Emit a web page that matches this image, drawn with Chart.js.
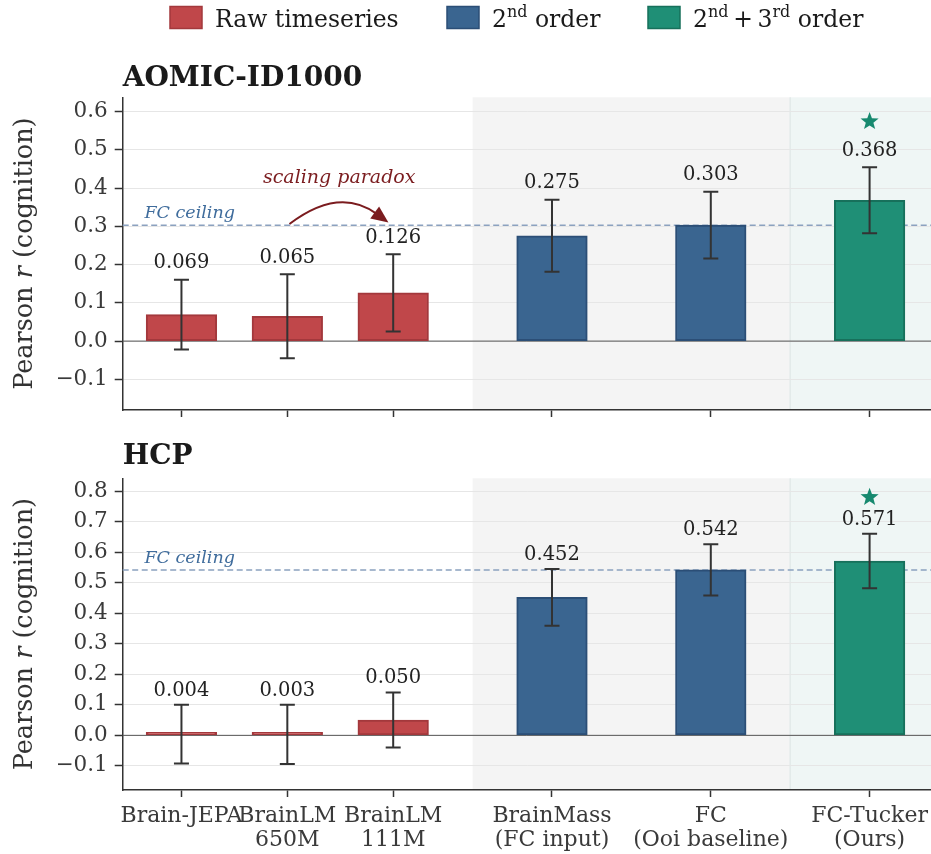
<!DOCTYPE html>
<html><head><meta charset="utf-8">
<script src="https://cdn.jsdelivr.net/npm/chart.js@4.4.1/dist/chart.umd.min.js"></script>
<style>
html,body{margin:0;padding:0;background:#fff;}
#wrap{position:relative;width:931px;height:854px;overflow:hidden;}
canvas{position:absolute;left:0;}
#c1{top:0}
#c2{top:420px}
</style></head><body>
<div id="wrap">
<canvas id="c1" width="931" height="420"></canvas>
<canvas id="c2" width="931" height="434"></canvas>
</div>
<script>
// ---------------- data ----------------
const methods = [['Brain-JEPA'], ['BrainLM','650M'], ['BrainLM','111M'], ['BrainMass','(FC input)'], ['FC','(Ooi baseline)'], ['FC-Tucker','(Ours)']];
const xPositions = [0, 1, 2, 3.5, 5, 6.5];
const groups = ['raw','raw','raw','second','second','third'];
const aomicR   = [0.069, 0.065, 0.126, 0.275, 0.303, 0.368];
const aomicErr = [0.091, 0.110, 0.101, 0.094, 0.087, 0.086];
const hcpR     = [0.004, 0.003, 0.050, 0.452, 0.542, 0.571];
const hcpErr   = [0.096, 0.097, 0.090, 0.093, 0.084, 0.089];
const aomicTicks = [-0.1, 0.0, 0.1, 0.2, 0.3, 0.4, 0.5, 0.6];
const hcpTicks   = [-0.1, 0.0, 0.1, 0.2, 0.3, 0.4, 0.5, 0.6, 0.7, 0.8];
const aomicCeiling = 0.303;
const hcpCeiling = 0.542;
const bestIndex = 5;
const panelTitles = ['AOMIC-ID1000', 'HCP'];
const yAxisLabel = ['Pearson ', 'r', ' (cognition)'];
const legendItems = [
  {group:'raw', segs:[{t:'Raw timeseries'}]},
  {group:'second', segs:[{t:'2'},{t:'nd',sup:true},{t:' order'}]},
  {group:'third', segs:[{t:'2'},{t:'nd',sup:true},{t:'\u2009+\u2009'},{t:'3'},{t:'rd',sup:true},{t:' order'}]}
];
const ceilingText = 'FC ceiling';
const annotationText = 'scaling paradox';

// ---------------- styles ----------------
const FONT = '"DejaVu Serif", "Liberation Serif", serif';
const fills = {raw:'#c0474a', second:'#3a6590', third:'#1f8f76'};
const edges = {raw:'#a3383c', second:'#2b4e76', third:'#17705b'};
const grayShadeFrom = 2.75, greenShadeFrom = 5.75;

function fmtTick(v){ const s = Math.abs(v) < 1e-9 ? '0.0' : v.toFixed(1); return s.replace('-', '\u2212'); }

function drawStar(ctx, cx, cy, R, color){
  const r = R*0.42;
  ctx.beginPath();
  for (let i=0;i<10;i++){
    const ang = -Math.PI/2 + i*Math.PI/5;
    const rad = i%2===0 ? R : r;
    const px = cx + rad*Math.cos(ang), py = cy + rad*Math.sin(ang);
    if (i===0) ctx.moveTo(px,py); else ctx.lineTo(px,py);
  }
  ctx.closePath(); ctx.fillStyle = color; ctx.fill();
}

function drawSegs(ctx, x, baseline, segs, size){
  for (const s of segs){
    if (s.sup){
      ctx.font = (size*0.68)+'px '+FONT;
      ctx.fillText(s.t, x, baseline - size*0.42);
    } else {
      ctx.font = size+'px '+FONT;
      ctx.fillText(s.t, x, baseline);
    }
    x += ctx.measureText(s.t).width;
  }
  return x;
}

function makePanelPlugin(cfg){
  return {
    id: 'panel'+cfg.key,
    beforeDraw(chart){
      const {ctx, chartArea:a, scales:{x:xs}} = chart;
      ctx.save();
      const g0 = xs.getPixelForValue(grayShadeFrom), g1 = xs.getPixelForValue(greenShadeFrom);
      ctx.fillStyle = '#f4f4f4';
      ctx.fillRect(g0, a.top, g1-g0, a.bottom-a.top);
      ctx.fillStyle = '#eff6f5';
      ctx.fillRect(g1, a.top, a.right-g1, a.bottom-a.top);
      ctx.strokeStyle = '#e3eae9'; ctx.lineWidth = 1.5;
      ctx.beginPath(); ctx.moveTo(g1, a.top); ctx.lineTo(g1, a.bottom); ctx.stroke();
      ctx.restore();
    },
    beforeDatasetsDraw(chart){
      const {ctx, chartArea:a, scales:{y:ys}} = chart;
      ctx.save();
      const y0 = ys.getPixelForValue(0);
      ctx.strokeStyle = '#555'; ctx.lineWidth = 1;
      ctx.beginPath(); ctx.moveTo(a.left, y0); ctx.lineTo(a.right, y0); ctx.stroke();
      const yc = ys.getPixelForValue(cfg.ceiling);
      ctx.strokeStyle = '#8ba1bf'; ctx.lineWidth = 1.5; ctx.setLineDash([6,3.5]);
      ctx.beginPath(); ctx.moveTo(a.left, yc); ctx.lineTo(a.right, yc); ctx.stroke();
      ctx.restore();
    },
    afterDatasetsDraw(chart){
      const {ctx, chartArea:a, scales:{x:xs, y:ys}} = chart;
      ctx.save();
      // error bars
      ctx.strokeStyle = '#333'; ctx.lineWidth = 2;
      cfg.values.forEach((v,i)=>{
        const e = cfg.errs[i];
        const x = xs.getPixelForValue(xPositions[i]);
        const yt = ys.getPixelForValue(v+e), yb = ys.getPixelForValue(v-e);
        ctx.beginPath();
        ctx.moveTo(x, yt); ctx.lineTo(x, yb);
        ctx.moveTo(x-7.5, yt); ctx.lineTo(x+7.5, yt);
        ctx.moveTo(x-7.5, yb); ctx.lineTo(x+7.5, yb);
        ctx.stroke();
      });
      // value labels
      ctx.fillStyle = '#222'; ctx.font = '19.5px '+FONT; ctx.textAlign = 'center'; ctx.textBaseline = 'alphabetic';
      cfg.values.forEach((v,i)=>{
        const x = xs.getPixelForValue(xPositions[i]);
        ctx.fillText(v.toFixed(3), x, ys.getPixelForValue(v+cfg.errs[i]+0.03));
      });
      // star
      const bi = bestIndex;
      drawStar(ctx, xs.getPixelForValue(xPositions[bi]), ys.getPixelForValue(cfg.values[bi]+cfg.errs[bi]+0.12), 9.5, '#17896f');
      // ceiling text
      ctx.fillStyle = '#3f6c9c'; ctx.font = 'italic 17.5px '+FONT; ctx.textAlign = 'left';
      ctx.fillText(ceilingText, xs.getPixelForValue(-0.35), ys.getPixelForValue(cfg.ceiling) - 7);
      // annotation (top panel)
      if (cfg.annotate){
        const sx = xs.getPixelForValue(1.02), sy = ys.getPixelForValue(0.306);
        const ex = xs.getPixelForValue(1.955), ey = ys.getPixelForValue(0.31);
        const cx = (sx+ex)/2, cy = Math.min(sy,ey) - 36;
        const ang = Math.atan2(ey-cy, ex-cx);
        const hl = 17, hw = 7.5;
        const bx = ex - hl*Math.cos(ang), by = ey - hl*Math.sin(ang);
        ctx.strokeStyle = '#7b1c1f'; ctx.fillStyle = '#7b1c1f'; ctx.lineWidth = 2;
        ctx.beginPath(); ctx.moveTo(sx, sy); ctx.quadraticCurveTo(cx, cy, bx+2*Math.cos(ang), by+2*Math.sin(ang)); ctx.stroke();
        ctx.beginPath(); ctx.moveTo(ex, ey);
        ctx.lineTo(bx + hw*Math.sin(ang), by - hw*Math.cos(ang));
        ctx.lineTo(bx - hw*Math.sin(ang), by + hw*Math.cos(ang));
        ctx.closePath(); ctx.fill();
        ctx.font = 'italic 19px '+FONT; ctx.textAlign = 'center';
        ctx.fillText(annotationText, xs.getPixelForValue(1.49), ys.getPixelForValue(0.413));
      }
      // title
      ctx.fillStyle = '#1a1a1a'; ctx.font = 'bold 28px '+FONT; ctx.textAlign = 'left'; ctx.textBaseline = 'alphabetic';
      ctx.fillText(cfg.title, a.left, cfg.titleBaseline);
      // y label
      ctx.save();
      ctx.translate(31.5, (a.top+a.bottom)/2);
      ctx.rotate(-Math.PI/2);
      ctx.fillStyle = '#333';
      const size = 25.5;
      const fonts = [size+'px '+FONT, 'italic '+size+'px '+FONT, size+'px '+FONT];
      let tot = 0;
      yAxisLabel.forEach((t,i)=>{ ctx.font = fonts[i]; tot += ctx.measureText(t).width; });
      let px = -tot/2;
      ctx.textAlign = 'left';
      yAxisLabel.forEach((t,i)=>{ ctx.font = fonts[i]; ctx.fillText(t, px, 0); px += ctx.measureText(t).width; });
      ctx.restore();
      // legend
      if (cfg.legend){
        const boxX = [170, 447, 648];
        legendItems.forEach((it,i)=>{
          ctx.fillStyle = fills[it.group]; ctx.strokeStyle = edges[it.group]; ctx.lineWidth = 1.5;
          ctx.fillRect(boxX[i], 6.5, 32, 22); ctx.strokeRect(boxX[i], 6.5, 32, 22);
          ctx.fillStyle = '#1a1a1a'; ctx.textAlign = 'left';
          drawSegs(ctx, boxX[i]+45, 27, it.segs, 23.5);
        });
      }
      ctx.restore();
    }
  };
}

function makeChart(canvasId, cfg){
  const colorsF = groups.map(g=>fills[g]);
  const colorsE = groups.map(g=>edges[g]);
  return new Chart(document.getElementById(canvasId), {
    type: 'bar',
    data: {
      datasets: [{
        data: xPositions.map((x,i)=>({x, y: cfg.values[i]})),
        backgroundColor: colorsF,
        borderColor: colorsE,
        borderWidth: 2,
        borderSkipped: false,
        barThickness: 70.6,
        minBarLength: 3
      }]
    },
    options: {
      responsive: false,
      animation: false,
      devicePixelRatio: 1,
      layout: {padding: {top: cfg.padTop, left: 0, right: 0, bottom: 0}},
      plugins: {legend: {display: false}, tooltip: {enabled: false}, title: {display: false}},
      scales: {
        x: {
          type: 'linear', offset: false, min: -0.555, max: 7.08,
          afterBuildTicks: s => { s.ticks = xPositions.map(v=>({value: v})); },
          afterFit: s => { s.height = cfg.xHeight; s.paddingLeft = 0; s.paddingRight = 0; },
          grid: {display: true, drawOnChartArea: false, drawTicks: true, tickLength: 7, tickColor: '#333', tickWidth: 1.5, offset: false},
          border: {display: true, color: '#333', width: 1.5},
          ticks: {
            display: cfg.showXLabels, autoSkip: false, maxRotation: 0, minRotation: 0, padding: 8,
            color: '#3a3a3a', font: {family: FONT, size: 22, lineHeight: 1.07},
            callback: (v) => { const i = xPositions.indexOf(v); return i >= 0 ? methods[i] : ''; }
          }
        },
        y: {
          min: cfg.yMin, max: cfg.yMax,
          afterBuildTicks: s => { s.ticks = cfg.ticks.map(v=>({value: v})); },
          afterFit: s => { s.width = 122.7; s.paddingTop = 0; s.paddingBottom = 0; },
          grid: {color: '#e6e6e6', lineWidth: 1, drawTicks: true, tickLength: 8, tickColor: '#333', tickWidth: 1.5},
          border: {display: true, color: '#333', width: 1.5},
          ticks: {color: '#3a3a3a', padding: 7, font: {family: FONT, size: 21.5}, callback: v => fmtTick(v)}
        }
      }
    },
    plugins: [makePanelPlugin(cfg)]
  });
}

makeChart('c1', {key:'a', values: aomicR, errs: aomicErr, ticks: aomicTicks, yMin: -0.18, yMax: 0.637,
  ceiling: aomicCeiling, annotate: true, legend: true, title: panelTitles[0], titleBaseline: 86,
  padTop: 97.3, xHeight: 10, showXLabels: false});
makeChart('c2', {key:'b', values: hcpR, errs: hcpErr, ticks: hcpTicks, yMin: -0.179, yMax: 0.842,
  ceiling: hcpCeiling, annotate: false, legend: false, title: panelTitles[1], titleBaseline: 43.5,
  padTop: 58.3, xHeight: 64, showXLabels: true});
</script>
</body></html>
